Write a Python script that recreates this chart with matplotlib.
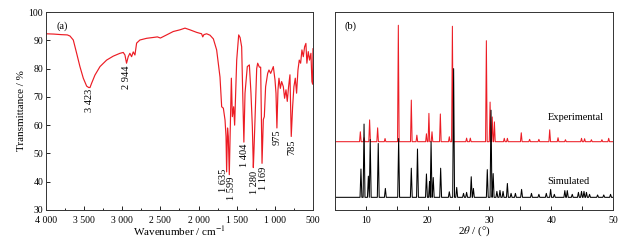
import numpy as np
import matplotlib
matplotlib.use("Agg")
import matplotlib.pyplot as plt
from matplotlib.ticker import MultipleLocator, FuncFormatter

plt.rcParams['font.family'] = ['Liberation Serif', 'DejaVu Serif']
plt.rcParams['mathtext.fontset'] = 'stix'

# ---- (a) FT-IR spectrum ----
ir_wn = [4000, 3900, 3800, 3720, 3685, 3642, 3598, 3555, 3511, 3467, 3440, 3423,
         3402, 3358, 3292, 3205, 3118, 3030, 2987, 2965, 2944, 2922, 2900, 2878,
         2856, 2834, 2812, 2769, 2681, 2594, 2540, 2500, 2419, 2332, 2244, 2178,
         2113, 2025, 1960, 1945, 1930, 1894, 1850, 1806, 1763, 1719, 1697, 1675,
         1653, 1640, 1632, 1620, 1610, 1597, 1585, 1570, 1557, 1540, 1527, 1500,
         1474, 1456, 1435, 1420, 1406, 1391, 1361, 1334, 1313, 1295, 1282, 1275,
         1260, 1238, 1225, 1203, 1186, 1168, 1151, 1138, 1121, 1094, 1077, 1055,
         1037, 1020, 998, 985, 973, 959, 946, 928, 911, 889, 872, 854,
         837, 820, 802, 785, 767, 750, 732, 715, 697, 680, 662, 645,
         627, 610, 593, 580, 562, 545, 527, 514, 505, 500]
ir_t = [92.3, 92.2, 92.0, 91.9, 91.5, 90.1, 85.4, 80.7, 76.6, 73.8, 73.3, 73.3,
        74.8, 77.7, 80.7, 83.0, 84.4, 85.4, 85.7, 84.8, 81.9, 84.2, 85.4, 84.2,
        85.9, 84.8, 89.0, 90.1, 90.7, 91.0, 91.2, 90.8, 91.9, 93.1, 93.7, 94.3,
        93.7, 92.8, 92.3, 91.2, 92.0, 92.3, 91.8, 90.5, 86.6, 77.0, 66.5, 66.0,
        61.8, 56.0, 43.5, 59.0, 56.0, 42.5, 58.0, 76.6, 63.0, 66.5, 60.0, 83.0,
        91.9, 91.0, 87.7, 70.0, 54.0, 71.3, 80.7, 81.3, 71.3, 59.5, 45.0, 50.0,
        62.0, 80.0, 81.9, 80.5, 80.5, 46.5, 62.0, 63.0, 73.6, 78.3, 79.5, 78.3,
        79.5, 80.7, 76.0, 71.3, 59.0, 72.5, 76.6, 73.0, 75.4, 73.6, 69.5, 72.5,
        68.4, 73.6, 77.8, 56.0, 66.5, 73.6, 76.6, 71.3, 79.5, 83.0, 81.9, 86.6,
        84.2, 87.7, 88.9, 81.9, 86.0, 83.0, 85.4, 75.4, 74.5, 87.0]

# peak labels: text, x position, top of the text
ir_labels = ['3 423', '2 944', '1 635', '1 599', '1 404', '1 280', '1 169', '975', '785']
ir_label_x = [3423, 2940, 1676, 1566, 1400, 1273, 1146, 976, 775]
ir_label_y = [73.3, 81.5, 45.2, 42.4, 53.7, 44.1, 45.9, 59.0, 55.5]

# ---- (b) XRD patterns: peak positions (2theta) and heights ----
exp_base = 34.5
exp_pos = [9.1, 9.7, 10.6, 11.9, 13.1, 15.25, 17.35, 18.25, 19.8, 20.2, 20.7, 22.05,
           23.5, 24.0, 26.3, 26.9, 29.5, 30.1, 30.45, 30.8, 32.4, 32.9, 35.15, 36.5,
           38.0, 39.75, 41.1, 42.3, 44.9, 45.4, 46.5, 48.2, 49.3]
exp_h = [5, 2, 11, 7, 1.6, 58.8, 21, 3.3, 4, 14.3, 5, 14,
         2.5, 58.3, 1.8, 1.8, 51, 20, 12.5, 10, 1.7, 1.7, 4.5, 1.2,
         1.2, 6, 2, 1, 1.7, 1.5, 1, 1, 1.7]

sim_base = 6.4
sim_pos = [9.2, 9.7, 10.4, 10.7, 12.0, 13.15, 15.3, 17.35, 18.35, 19.8, 20.3, 20.55,
           20.9, 22.1, 23.5, 24.2, 24.7, 25.8, 26.3, 27.05, 27.4, 29.65, 30.25, 30.6,
           31.2, 31.7, 32.2, 32.9, 33.5, 34.2, 35.2, 36.8, 38.0, 39.2, 39.9, 40.5,
           42.2, 42.6, 43.4, 44.4, 44.9, 45.3, 45.7, 46.2, 47.5, 48.5, 49.6]
sim_h = [14.3, 37, 10.7, 29.2, 27.2, 4.5, 29.7, 14.7, 24.4, 11.8, 8, 28.1,
         10, 14.7, 2.8, 65, 5, 2, 2.5, 10.4, 4.5, 14, 44, 12,
         3, 3.5, 3, 7, 2, 2, 4, 2, 1.5, 2, 4, 1.5,
         3.4, 3.4, 1.5, 2.5, 3, 3, 2.5, 1.5, 1.2, 1.2, 1.5]

RED = '#ec1c24'


def stick_line(pos, h, base, w):
    # each peak drawn as a narrow spike on the baseline
    xs, ys = [5.0], [base]
    for p, hh in zip(pos, h):
        xs += [p - w, p, p + w]
        ys += [base, base + hh, base]
    xs.append(50.0)
    ys.append(base)
    return xs, ys


def thou(v, pos):
    v = int(round(v))
    if v >= 1000:
        return f"{v // 1000} {v % 1000:03d}"
    return str(v)


fig = plt.figure(figsize=(6.29, 2.47), dpi=100)
ax1 = fig.add_axes([0.0731, 0.1498, 0.4245, 0.8016])
ax2 = fig.add_axes([0.5326, 0.1498, 0.4420, 0.8016])

# ---- panel (a) ----
ax1.plot(ir_wn, ir_t, color=RED, lw=0.85)
ax1.set_xlim(4000, 500)
ax1.set_ylim(30, 100)
ax1.xaxis.set_major_locator(MultipleLocator(500))
ax1.xaxis.set_minor_locator(MultipleLocator(250))
ax1.xaxis.set_major_formatter(FuncFormatter(thou))
ax1.yaxis.set_major_locator(MultipleLocator(10))
ax1.tick_params(which='both', direction='in', labelsize=7, top=False, right=False)
ax1.tick_params(axis='x', pad=4)
ax1.tick_params(axis='y', pad=2)
ax1.tick_params(which='major', length=3, width=0.6)
ax1.tick_params(which='minor', length=1.8, width=0.6)
ax1.set_xlabel('Wavenumber / cm$^{-1}$', fontsize=8, labelpad=0)
ax1.set_ylabel('Transmittance / %', fontsize=8, labelpad=2)
ax1.text(0.04, 0.955, '(a)', transform=ax1.transAxes, fontsize=7.5, va='top')
for s, x, y in zip(ir_labels, ir_label_x, ir_label_y):
    ax1.text(x, y - 0.4, s, rotation=90, ha='center', va='top', fontsize=7.5)

# ---- panel (b) ----
ex, ey = stick_line(exp_pos, exp_h, exp_base, 0.13)
sx, sy = stick_line(sim_pos, sim_h, sim_base, 0.15)
ax2.plot(ex, ey, color=RED, lw=0.75)
ax2.plot(sx, sy, color='black', lw=0.75)
ax2.set_xlim(5, 50)
ax2.set_ylim(0, 100)
ax2.set_yticks([])
ax2.xaxis.set_major_locator(MultipleLocator(10))
ax2.xaxis.set_minor_locator(MultipleLocator(5))
ax2.tick_params(which='both', direction='in', labelsize=7, top=False, pad=4)
ax2.tick_params(which='major', length=3, width=0.6)
ax2.tick_params(which='minor', length=3, width=0.6)
ax2.set_xlabel('2$\\mathit{\\theta}$ / (°)', fontsize=8, labelpad=0)
ax2.text(0.035, 0.955, '(b)', transform=ax2.transAxes, fontsize=7.5, va='top')
ax2.text(39.4, 46.5, 'Experimental', fontsize=7.5, va='center', ha='left')
ax2.text(39.4, 14.6, 'Simulated', fontsize=7.5, va='center', ha='left')

for ax in (ax1, ax2):
    for sp in ax.spines.values():
        sp.set_linewidth(0.7)
        sp.set_color('#333333')

fig.savefig('out.png', dpi=100)
